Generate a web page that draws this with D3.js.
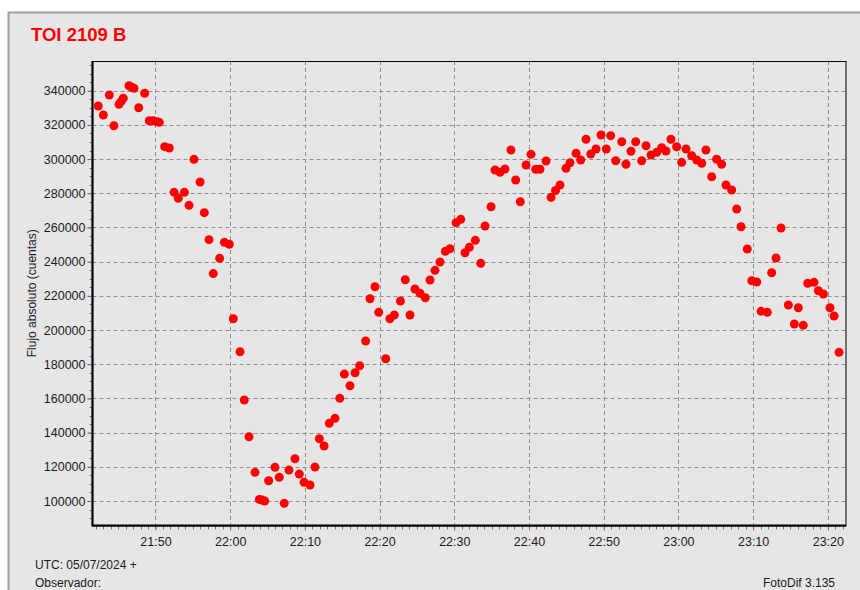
<!DOCTYPE html>
<html>
<head>
<meta charset="utf-8">
<script src="https://cdn.jsdelivr.net/npm/d3@7"></script>
<style>
  body { margin: 0; background: #ffffff; }
  svg text { font-family: "Liberation Sans", Arial, sans-serif; }
</style>
</head>
<body>
<svg id="chart" width="860" height="590"></svg>
<script>
// Observation times (UTC) and absolute flux (counts)
const times = [
  "21:42:20","21:43:01","21:43:49","21:44:26","21:45:07","21:45:23","21:45:41","21:46:27","21:46:49","21:47:07",
  "21:47:45","21:48:33","21:49:10","21:49:43","21:50:10","21:50:31","21:51:14","21:51:51","21:52:29","21:53:03",
  "21:53:52","21:54:29","21:55:09","21:55:58","21:56:32","21:57:10","21:57:44","21:58:35","21:59:13","21:59:53",
  "22:00:25","22:01:19","22:01:53","22:02:31","22:03:19","22:03:54","22:04:16","22:04:37","22:05:09","22:06:00",
  "22:06:34","22:07:14","22:07:52","22:08:40","22:09:15","22:09:53","22:10:41","22:11:21","22:11:56","22:12:34",
  "22:13:16","22:14:02","22:14:40","22:15:17","22:16:02","22:16:43","22:17:20","22:18:08","22:18:43","22:19:23",
  "22:19:53","22:20:49","22:21:23","22:21:58","22:22:47","22:23:26","22:24:04","22:24:44","22:25:25","22:26:07",
  "22:26:45","22:27:25","22:28:05","22:28:48","22:29:25","22:30:14","22:30:52","22:31:26","22:32:01","22:32:49",
  "22:33:32","22:34:07","22:34:55","22:35:27","22:36:07","22:36:47","22:37:35","22:38:13","22:38:50","22:39:36",
  "22:40:16","22:40:54","22:41:28","22:42:17","22:42:57","22:43:33","22:44:09","22:44:57","22:45:29","22:46:18",
  "22:46:55","22:47:38","22:48:16","22:48:58","22:49:38","22:50:21","22:50:56","22:51:36","22:52:25","22:52:59",
  "22:53:39","22:54:17","22:55:05","22:55:40","22:56:20","22:57:06","22:57:46","22:58:20","22:59:00","22:59:46",
  "23:00:26","23:01:01","23:01:47","23:02:27","23:03:07","23:03:41","23:04:27","23:05:07","23:05:47","23:06:22",
  "23:07:08","23:07:48","23:08:23","23:09:13","23:09:49","23:10:29","23:11:04","23:11:54","23:12:29","23:13:04",
  "23:13:44","23:14:43","23:15:31","23:16:03","23:16:43","23:17:18","23:18:09","23:18:44","23:19:24","23:20:17",
  "23:20:50","23:21:30"
];
const flux = [
  331050,325800,337500,319500,332000,333600,335550,342900,342000,341400,
  330050,338500,322450,322450,321850,321500,307250,306500,280550,277050,
  280550,272950,299850,286600,268650,252850,233000,241950,251300,250150,
  206620,187300,159050,137600,116750,100950,100550,99970,111850,119700,
  113850,98630,118100,124700,115750,110900,109350,119850,136400,132150,
  145430,148350,160050,174250,167420,175030,179125,193570,218320,225340,
  210360,183220,206620,208780,216970,229430,208780,223990,221480,218900,
  229250,234930,239790,246040,247570,262780,264770,245230,248390,252480,
  239030,260850,272140,293610,292270,294200,305310,287760,275070,296530,
  302790,294020,294020,298870,277600,281620,284840,294600,297880,303380,
  299460,311570,302970,305890,314080,305890,313700,299050,310170,296950,
  304550,310170,299050,307830,302390,303960,306650,304720,311570,307240,
  298110,305890,301970,299460,297530,305310,289690,299870,296950,284840,
  281920,270800,260440,247390,228850,228090,210950,210360,233530,242130,
  259680,214630,203510,213050,202750,227320,227910,223000,221070,213050,
  208200,186960
];
const yTicks = [100000,120000,140000,160000,180000,200000,220000,240000,260000,280000,300000,320000,340000];
const xTickLabels = ["21:50","22:00","22:10","22:20","22:30","22:40","22:50","23:00","23:10","23:20"];
const timeStart = "21:41:34";
const timeEnd = "23:22:26";
const fluxMin = 85670, fluxMax = 357370;

const title = "TOI 2109 B";
const yLabel = "Flujo absoluto (cuentas)";
const footLeft1 = "UTC: 05/07/2024 +";
const footLeft2 = "Observador:";
const footRight = "FotoDif 3.135";

const parseT = d3.timeParse("%H:%M:%S");
const parseHM = d3.timeParse("%H:%M");
const data = times.map((t, i) => ({ t: parseT(t), v: flux[i] }));

const svg = d3.select("#chart");

// window panel
svg.append("rect").attr("x", 8.5).attr("y", 12.5).attr("width", 870).attr("height", 600)
  .attr("fill", "#e6e6e6").attr("stroke", "#a0a0a0").attr("stroke-width", 2);

const plot = { left: 92.5, right: 846, top: 61, bottom: 525.5 };

const x = d3.scaleTime().domain([parseT(timeStart), parseT(timeEnd)]).range([plot.left, plot.right]);
const y = d3.scaleLinear().domain([fluxMin, fluxMax]).range([plot.bottom, plot.top]);

const xMajor = xTickLabels.map(s => parseHM(s));
const xMinor = d3.timeSecond.every(150).range(parseT(timeStart), parseT(timeEnd));
const yMinor = d3.range(90000, fluxMax, 5000);

// grid
const grid = svg.append("g").attr("stroke", "#8e8e8e").attr("stroke-width", 1)
  .attr("stroke-dasharray", "4,3");
grid.selectAll(".gy").data(yTicks).join("line")
  .attr("x1", plot.left).attr("x2", plot.right)
  .attr("y1", d => Math.round(y(d)) + 0.5).attr("y2", d => Math.round(y(d)) + 0.5);
grid.selectAll(".gx").data(xMajor).join("line")
  .attr("y1", plot.top).attr("y2", plot.bottom)
  .attr("x1", d => Math.round(x(d)) + 0.5).attr("x2", d => Math.round(x(d)) + 0.5);

// axes
const yAxis = d3.axisLeft(y).tickValues(yTicks).tickFormat(d3.format("d")).tickSize(5).tickPadding(2);
const gy = svg.append("g").attr("transform", `translate(${plot.left},0)`).call(yAxis);
gy.select(".domain").remove();
gy.selectAll("line").attr("stroke", "#555");
gy.selectAll("text").attr("font-size", "12.5px").attr("fill", "#1a1a1a");

svg.append("g").attr("stroke", "#777").selectAll("line").data(yMinor.filter(v => v > fluxMin)).join("line")
  .attr("x1", plot.left - 3).attr("x2", plot.left)
  .attr("y1", d => Math.round(y(d)) + 0.5).attr("y2", d => Math.round(y(d)) + 0.5);

const xAxis = d3.axisBottom(x).tickValues(xMajor).tickFormat(d3.timeFormat("%H:%M")).tickSize(5).tickPadding(7);
const gx = svg.append("g").attr("transform", `translate(0,${plot.bottom})`).call(xAxis);
gx.select(".domain").remove();
gx.selectAll("line").attr("stroke", "#777");
gx.selectAll("text").attr("font-size", "12.5px").attr("fill", "#1a1a1a");

svg.append("g").attr("stroke", "#777").selectAll("line").data(xMinor).join("line")
  .attr("y1", plot.bottom).attr("y2", plot.bottom + 4)
  .attr("x1", d => Math.round(x(d)) + 0.5).attr("x2", d => Math.round(x(d)) + 0.5);

// frame
svg.append("rect").attr("x", plot.left).attr("y", plot.top + 0.5)
  .attr("width", plot.right - plot.left).attr("height", plot.bottom - plot.top)
  .attr("fill", "none").attr("stroke", "#000").attr("stroke-width", 1);
svg.append("path").attr("d", `M${plot.left},${plot.top}V${plot.bottom}H${plot.right}`)
  .attr("fill", "none").attr("stroke", "#000").attr("stroke-width", 2.2);

// points
svg.append("g").selectAll("circle").data(data).join("circle")
  .attr("cx", d => x(d.t)).attr("cy", d => y(d.v)).attr("r", 4.5)
  .attr("fill", "#ff0000");

// texts
svg.append("text").attr("x", 31).attr("y", 41).attr("font-size", "18.5px").attr("font-weight", "bold")
  .attr("fill", "#ff0000").text(title);
svg.append("text").attr("transform", `translate(36,${(plot.top + plot.bottom) / 2}) rotate(-90)`)
  .attr("text-anchor", "middle").attr("font-size", "12px").attr("fill", "#1a1a1a").text(yLabel);
svg.append("text").attr("x", 35).attr("y", 569).attr("font-size", "12px").attr("fill", "#1a1a1a").text(footLeft1);
svg.append("text").attr("x", 35).attr("y", 586.5).attr("font-size", "12px").attr("fill", "#1a1a1a").text(footLeft2);
svg.append("text").attr("x", 835).attr("y", 586.5).attr("text-anchor", "end").attr("font-size", "12px")
  .attr("fill", "#1a1a1a").text(footRight);
</script>
</body>
</html>
